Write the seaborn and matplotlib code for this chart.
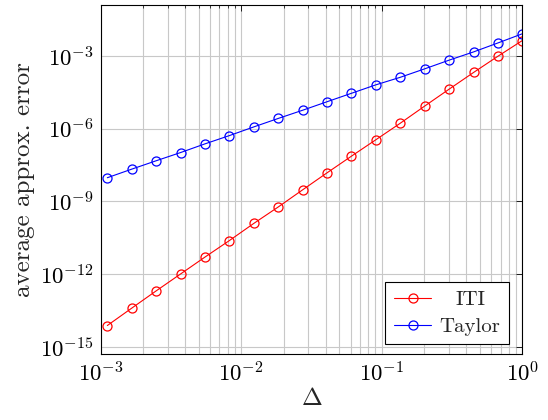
import numpy as np
import pandas as pd
import matplotlib
matplotlib.use("Agg")
import matplotlib.pyplot as plt
import seaborn as sns
from matplotlib.ticker import LogLocator, NullFormatter
from matplotlib.transforms import ScaledTranslation

# Data (log10 values)
log_delta = [-2.953, -2.779, -2.606, -2.432, -2.258, -2.085, -1.911, -1.737, -1.563,
             -1.390, -1.216, -1.042, -0.869, -0.695, -0.521, -0.347, -0.174, 0.0]
log_iti = [-14.13, -13.41, -12.70, -12.00, -11.30, -10.62, -9.91, -9.23, -8.52,
           -7.82, -7.13, -6.45, -5.77, -5.06, -4.36, -3.67, -3.00, -2.35]
log_taylor = [-8.02, -7.665, -7.32, -6.98, -6.62, -6.28, -5.92, -5.57, -5.23,
              -4.88, -4.53, -4.18, -3.87, -3.52, -3.16, -2.82, -2.45, -2.07]
series_names = ["ITI", "Taylor"]
series_colors = ["#ff0000", "#0000ff"]

delta = [10 ** v for v in log_delta]
series_values = [[10 ** v for v in log_iti], [10 ** v for v in log_taylor]]

sns.set_theme(style="white")
plt.rcParams["font.family"] = ["cmr10", "DejaVu Serif"]
plt.rcParams["mathtext.fontset"] = "cm"
plt.rcParams["axes.formatter.use_mathtext"] = True

fig = plt.figure(figsize=(5.48, 4.2), dpi=100)
ax = fig.add_axes([0.1838, 0.1564, 0.7693, 0.8317])

for name, col, vals in zip(series_names, series_colors, series_values):
    d = pd.DataFrame({"Delta": delta, "err": vals})
    sns.lineplot(data=d, x="Delta", y="err", color=col, label=name,
                 marker="o", markerfacecolor="none", markeredgecolor=col,
                 markersize=6.5, markeredgewidth=0.9, linewidth=0.8, ax=ax)

ax.set_xscale("log")
ax.set_yscale("log")
ax.set_xlim(1e-3, 1.0)
ax.set_ylim(10 ** -15.32, 10 ** -0.88)

ax.xaxis.set_minor_locator(LogLocator(base=10, subs=np.arange(2, 10), numticks=20))
ax.xaxis.set_minor_formatter(NullFormatter())
ax.set_yticks([1e-15, 1e-12, 1e-9, 1e-6, 1e-3])
ax.set_yticklabels([r"$10^{-15}$", r"$10^{-12}$", r"$10^{-9}$", r"$10^{-6}$", r"$10^{-3}$"])
ax.yaxis.set_minor_locator(plt.NullLocator())
ax.set_xticks([1e-3, 1e-2, 1e-1, 1e0])
ax.set_xticklabels([r"$10^{-3}$", r"$10^{-2}$", r"$10^{-1}$", r"$10^{0}$"])

ax.grid(True, which="major", color="#c8c8c8", linewidth=0.8)
ax.grid(True, which="minor", axis="x", color="#c8c8c8", linewidth=0.8)
ax.set_axisbelow(True)

ax.tick_params(axis="both", which="both", direction="in", top=True, right=True,
               labelsize=16.5, colors="black")
ax.tick_params(axis="both", which="major", length=4, width=0.6, pad=5)
ax.tick_params(axis="both", which="minor", length=2, width=0.5)
for s in ax.spines.values():
    s.set_color("black")
    s.set_linewidth(0.8)

ax.set_xlabel(r"$\Delta$", fontsize=18, labelpad=2)
ax.set_ylabel("average approx. error", fontsize=18, labelpad=4)

leg = ax.legend(loc="lower right", bbox_to_anchor=(0.968, 0.0286), fontsize=15,
                frameon=True, fancybox=False, edgecolor="black", framealpha=1,
                borderpad=0.4, borderaxespad=0, handlelength=1.8,
                handletextpad=0.4, labelspacing=0.4)
leg.get_frame().set_linewidth(0.8)

# center the legend entry texts within their column (as in pgfplots)
fig.canvas.draw()
r = fig.canvas.get_renderer()
widths = [t.get_window_extent(r).width for t in leg.texts]
wmax = max(widths)
for t, w in zip(leg.texts, widths):
    dx = (wmax - w) / 2.0 / fig.dpi
    t.set_transform(t.get_transform() + ScaledTranslation(dx, 0, fig.dpi_scale_trans))

fig.savefig("out.png", dpi=100)
